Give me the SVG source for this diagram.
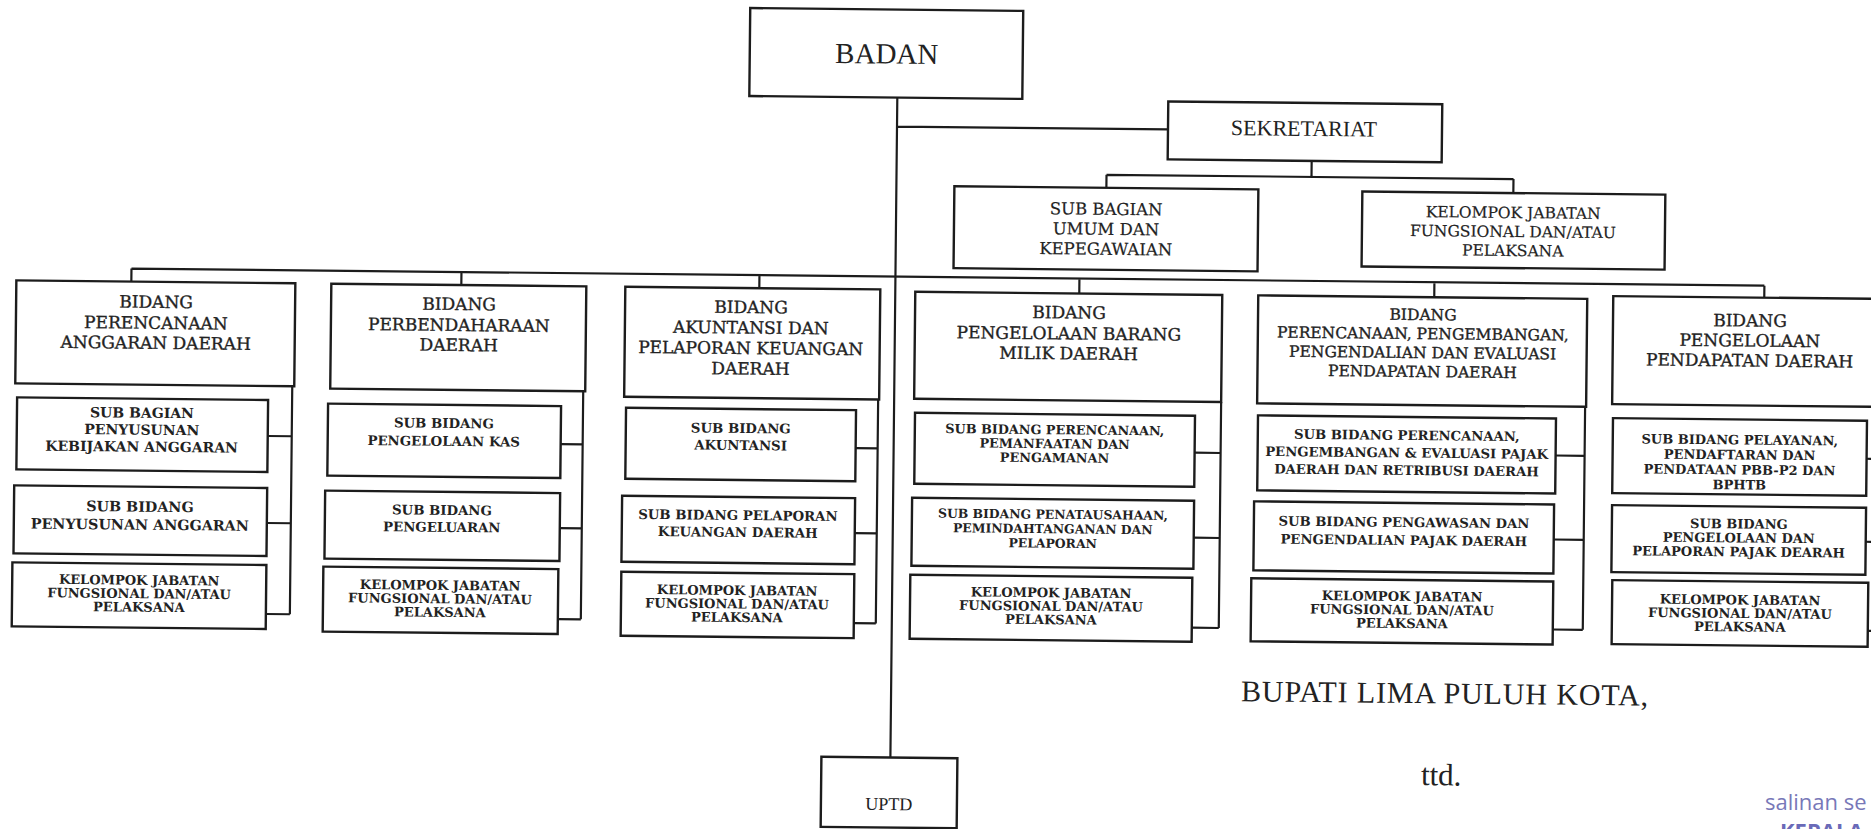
<svg xmlns="http://www.w3.org/2000/svg" width="1871" height="829" viewBox="0 0 1871 829">
<style>
.box{fill:#fff;stroke:#1c1c1c;stroke-width:2.4}
.ln{fill:none;stroke:#1c1c1c;stroke-width:2.2}
.tt{font-family:"DejaVu Serif","Liberation Serif",serif;fill:#222;stroke:#222;stroke-width:0.35;text-anchor:middle}
.sb{font-family:"DejaVu Serif","Liberation Serif",serif;font-weight:bold;fill:#222;text-anchor:middle}
.sr{font-family:"DejaVu Serif","Liberation Serif",serif;fill:#222;stroke:#222;stroke-width:0.2;text-anchor:middle}
.tm{font-family:"Liberation Serif","Times New Roman",serif;fill:#222;text-anchor:middle}
.stamp{font-family:"Open Sans","Liberation Sans",sans-serif;font-size:22px}
</style>
<rect width="1871" height="829" fill="#fff"/>
<g transform="rotate(0.6 935 414)">
<g id="connectors">
<path class="ln" d="M894 97.5V758M894 127H1165M1309 157V173M1104 173H1511M1104 173V186M1511 173V187"/>
<path class="ln" d="M130 277H1763M130 277V290M460 277V290M758 277V290M1078 277V292M1433 277V292M1763 277V289"/>
<path class="ln" d="M292 393V621M268 443H292M268 530H292M268 621H292"/>
<path class="ln" d="M583 395V623M561 448H583M561 532H583M560 623H583"/>
<path class="ln" d="M878 400V624M856 449H878M856 534H878M856 624H878"/>
<path class="ln" d="M1221 399V625M1195 450H1221M1195 535H1221M1194 625H1221"/>
<path class="ln" d="M1585 400V623M1556 449H1585M1555 533H1585M1555 623H1585"/>
<path class="ln" d="M1890 397V621M1867 449H1890M1867 532H1890M1870 621H1890"/>
</g>
<g id="badan"><rect class="box" x="746" y="10" width="273" height="88"/><text class="tm" x="883" y="64" style="font-size:29px">BADAN</text></g>
<g id="sekretariat"><rect class="box" x="1165" y="99" width="274" height="58"/><text class="tm" x="1301" y="132" style="font-size:22px">SEKRETARIAT</text></g>
<g id="subbag-umum"><rect class="box" x="952" y="186" width="304" height="82"/><text class="sr" style="font-size:16.5px"><tspan x="1104" y="213">SUB BAGIAN</tspan><tspan x="1104" y="233">UMUM DAN</tspan><tspan x="1104" y="253">KEPEGAWAIAN</tspan></text></g>
<g id="kjf-sekretariat"><rect class="box" x="1360" y="187" width="303" height="75"/><text class="sr" style="font-size:15.5px"><tspan x="1511" y="212">KELOMPOK JABATAN</tspan><tspan x="1511" y="231">FUNGSIONAL DAN/ATAU</tspan><tspan x="1511" y="250">PELAKSANA</tspan></text></g>

<g id="bidang1"><rect class="box" x="15" y="290" width="279" height="103"/><text class="tt" style="font-size:17px"><tspan x="155" y="316">BIDANG</tspan><tspan x="155" y="337">PERENCANAAN</tspan><tspan x="155" y="357">ANGGARAN DAERAH</tspan></text></g>
<g id="b1-sub1"><rect class="box" x="17" y="407" width="251" height="72"/><text class="sb" style="font-size:14px"><tspan x="142" y="426">SUB BAGIAN</tspan><tspan x="142" y="443">PENYUSUNAN</tspan><tspan x="142" y="460">KEBIJAKAN ANGGARAN</tspan></text></g>
<g id="b1-sub2"><rect class="box" x="15" y="495" width="253" height="68"/><text class="sb" style="font-size:14.3px"><tspan x="141" y="520">SUB BIDANG</tspan><tspan x="141" y="538">PENYUSUNAN ANGGARAN</tspan></text></g>
<g id="b1-kjf"><rect class="box" x="14" y="572" width="254" height="64"/><text class="sb" style="font-size:13px"><tspan x="141" y="593">KELOMPOK JABATAN</tspan><tspan x="141" y="606.5">FUNGSIONAL DAN/ATAU</tspan><tspan x="141" y="620">PELAKSANA</tspan></text></g>

<g id="bidang2"><rect class="box" x="330" y="290" width="255" height="105"/><text class="tt" style="font-size:17px"><tspan x="458" y="315">BIDANG</tspan><tspan x="458" y="336">PERBENDAHARAAN</tspan><tspan x="458" y="356">DAERAH</tspan></text></g>
<g id="b2-sub1"><rect class="box" x="328" y="410" width="233" height="72"/><text class="sb" style="font-size:13.3px"><tspan x="444" y="433">SUB BIDANG</tspan><tspan x="444" y="451">PENGELOLAAN KAS</tspan></text></g>
<g id="b2-sub2"><rect class="box" x="326" y="497" width="235" height="68"/><text class="sb" style="font-size:13.3px"><tspan x="443" y="520">SUB BIDANG</tspan><tspan x="443" y="537">PENGELUARAN</tspan></text></g>
<g id="b2-kjf"><rect class="box" x="325" y="573" width="235" height="65"/><text class="sb" style="font-size:13px"><tspan x="442" y="595">KELOMPOK JABATAN</tspan><tspan x="442" y="608.5">FUNGSIONAL DAN/ATAU</tspan><tspan x="442" y="622">PELAKSANA</tspan></text></g>

<g id="bidang3"><rect class="box" x="624" y="290" width="255" height="110"/><text class="tt" style="font-size:17px"><tspan x="750" y="315">BIDANG</tspan><tspan x="750" y="335.5">AKUNTANSI DAN</tspan><tspan x="750" y="356">PELAPORAN KEUANGAN</tspan><tspan x="750" y="376.5">DAERAH</tspan></text></g>
<g id="b3-sub1"><rect class="box" x="626" y="411" width="230" height="71"/><text class="sb" style="font-size:13.3px"><tspan x="741" y="435">SUB BIDANG</tspan><tspan x="741" y="452">AKUNTANSI</tspan></text></g>
<g id="b3-sub2"><rect class="box" x="623" y="499" width="233" height="66"/><text class="sb" style="font-size:13.3px"><tspan x="739" y="522">SUB BIDANG PELAPORAN</tspan><tspan x="739" y="539">KEUANGAN DAERAH</tspan></text></g>
<g id="b3-kjf"><rect class="box" x="623" y="575" width="233" height="64"/><text class="sb" style="font-size:13px"><tspan x="739" y="597">KELOMPOK JABATAN</tspan><tspan x="739" y="610.5">FUNGSIONAL DAN/ATAU</tspan><tspan x="739" y="624">PELAKSANA</tspan></text></g>

<g id="bidang4"><rect class="box" x="914" y="292" width="307" height="107"/><text class="tt" style="font-size:17px"><tspan x="1068" y="317">BIDANG</tspan><tspan x="1068" y="338">PENGELOLAAN BARANG</tspan><tspan x="1068" y="358">MILIK DAERAH</tspan></text></g>
<g id="b4-sub1"><rect class="box" x="915" y="413" width="280" height="71"/><text class="sb" style="font-size:12.8px"><tspan x="1055" y="433">SUB BIDANG PERENCANAAN,</tspan><tspan x="1055" y="447">PEMANFAATAN DAN</tspan><tspan x="1055" y="461">PENGAMANAN</tspan></text></g>
<g id="b4-sub2"><rect class="box" x="913" y="498" width="282" height="68"/><text class="sb" style="font-size:12.4px"><tspan x="1054" y="517.5">SUB BIDANG PENATAUSAHAAN,</tspan><tspan x="1054" y="532">PEMINDAHTANGANAN DAN</tspan><tspan x="1054" y="546.5">PELAPORAN</tspan></text></g>
<g id="b4-kjf"><rect class="box" x="912" y="575" width="282" height="64"/><text class="sb" style="font-size:13px"><tspan x="1053" y="596">KELOMPOK JABATAN</tspan><tspan x="1053" y="609.5">FUNGSIONAL DAN/ATAU</tspan><tspan x="1053" y="623">PELAKSANA</tspan></text></g>

<g id="bidang5"><rect class="box" x="1257" y="292" width="329" height="108"/><text class="tt" style="font-size:15.5px"><tspan x="1422" y="315">BIDANG</tspan><tspan x="1422" y="334">PERENCANAAN, PENGEMBANGAN,</tspan><tspan x="1422" y="353">PENGENDALIAN DAN EVALUASI</tspan><tspan x="1422" y="372">PENDAPATAN DAERAH</tspan></text></g>
<g id="b5-sub1"><rect class="box" x="1258" y="412" width="298" height="75"/><text class="sb" style="font-size:13.2px"><tspan x="1407" y="435">SUB BIDANG PERENCANAAN,</tspan><tspan x="1407" y="452.5">PENGEMBANGAN &amp; EVALUASI PAJAK</tspan><tspan x="1407" y="470">DAERAH DAN RETRIBUSI DAERAH</tspan></text></g>
<g id="b5-sub2"><rect class="box" x="1255" y="498" width="300" height="69"/><text class="sb" style="font-size:13.2px"><tspan x="1405" y="522">SUB BIDANG PENGAWASAN DAN</tspan><tspan x="1405" y="540">PENGENDALIAN PAJAK DAERAH</tspan></text></g>
<g id="b5-kjf"><rect class="box" x="1253" y="575" width="302" height="63"/><text class="sb" style="font-size:13px"><tspan x="1404" y="596">KELOMPOK JABATAN</tspan><tspan x="1404" y="609.5">FUNGSIONAL DAN/ATAU</tspan><tspan x="1404" y="623">PELAKSANA</tspan></text></g>

<g id="bidang6"><rect class="box" x="1612" y="289" width="284" height="108"/><text class="tt" style="font-size:17px"><tspan x="1749" y="318">BIDANG</tspan><tspan x="1749" y="338">PENGELOLAAN</tspan><tspan x="1749" y="358">PENDAPATAN DAERAH</tspan></text></g>
<g id="b6-sub1"><rect class="box" x="1613" y="411" width="254" height="75"/><text class="sb" style="font-size:13px"><tspan x="1740" y="436">SUB BIDANG PELAYANAN,</tspan><tspan x="1740" y="451">PENDAFTARAN DAN</tspan><tspan x="1740" y="466">PENDATAAN PBB-P2 DAN</tspan><tspan x="1740" y="481">BPHTB</tspan></text></g>
<g id="b6-sub2"><rect class="box" x="1613" y="498" width="254" height="67"/><text class="sb" style="font-size:13px"><tspan x="1740" y="520">SUB BIDANG</tspan><tspan x="1740" y="534">PENGELOLAAN DAN</tspan><tspan x="1740" y="548">PELAPORAN PAJAK DEARAH</tspan></text></g>
<g id="b6-kjf"><rect class="box" x="1614" y="573" width="256" height="64"/><text class="sb" style="font-size:13px"><tspan x="1742" y="596">KELOMPOK JABATAN</tspan><tspan x="1742" y="609.5">FUNGSIONAL DAN/ATAU</tspan><tspan x="1742" y="623">PELAKSANA</tspan></text></g>

<g id="uptd"><rect class="box" x="825" y="758" width="136" height="70"/><text class="tm" x="893" y="810.5" style="font-size:18px">UPTD</text></g>
<g id="signature">
<text class="tm" x="1244" y="698" style="font-size:30px;text-anchor:start" textLength="407">BUPATI LIMA PULUH KOTA,</text>
<text class="tm" x="1445" y="780" style="font-size:31px">ttd.</text>
</g>
</g>
<g id="stamp">
<text class="stamp" x="1765" y="810" fill="#7878b8">salinan se</text>
<text class="stamp" x="1780" y="839" fill="#6a6ab8" font-weight="bold">KEPALA</text>
</g>
</svg>
